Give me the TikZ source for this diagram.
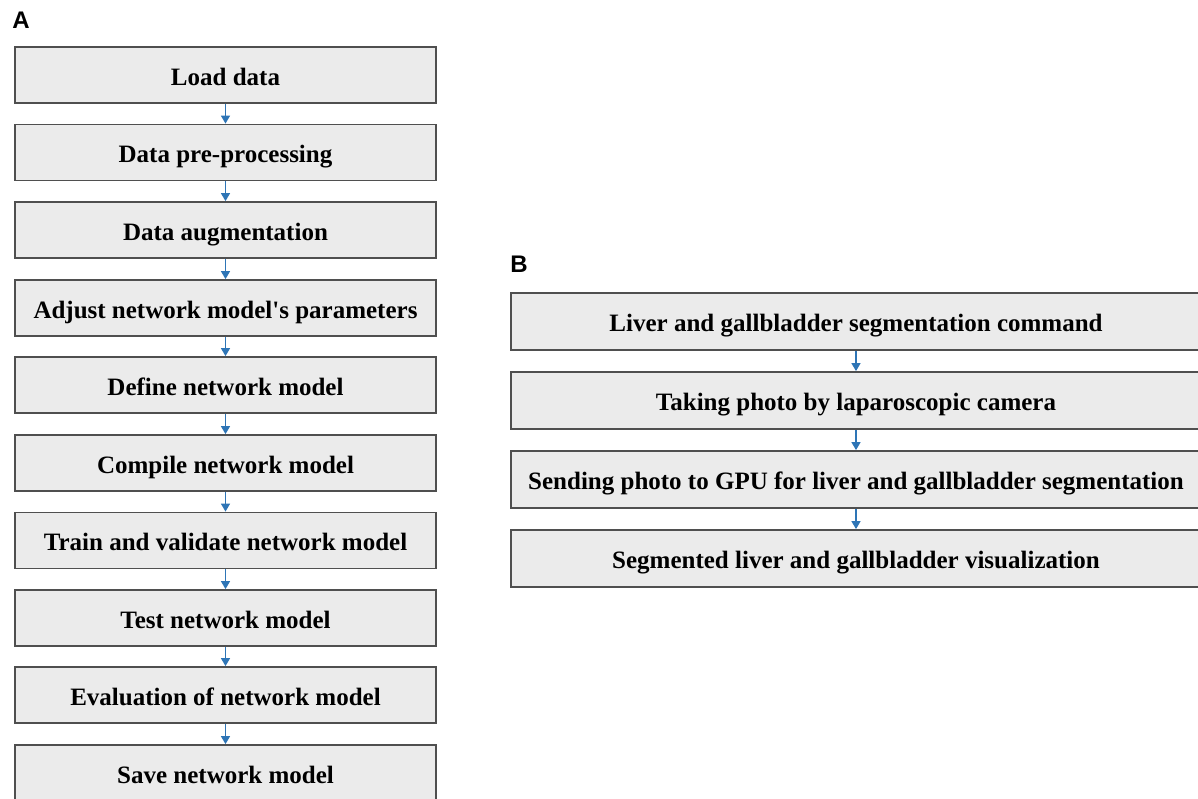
\documentclass[tikz,border=0pt]{standalone}
\usepackage{fontspec}
\setmainfont{Liberation Serif}
\setsansfont{Liberation Sans}
\usetikzlibrary{arrows.meta}
\definecolor{boxfill}{HTML}{EBEBEB}
\definecolor{boxline}{HTML}{4F4F4F}
\definecolor{flowblue}{HTML}{2E75B6}
\begin{document}
\begin{tikzpicture}[x=0.5pt,y=-0.5pt,
  stepA/.style={draw=boxline,fill=boxfill,line width=0.9pt,minimum width=210.5pt,minimum height=28pt,inner sep=0pt,text height=11pt,text depth=1pt,font=\fontsize{12.5}{14}\selectfont\bfseries},
  stepB/.style={stepA,minimum width=345pt,minimum height=28.5pt},
  flow/.style={draw=flowblue,line width=0.7pt,-{Triangle[width=4.5pt,length=4pt]}},
  panel/.style={font=\sffamily\bfseries\fontsize{12}{14}\selectfont,inner sep=0pt,anchor=west}]
\useasboundingbox (0,0) rectangle (1198,798);
% panel A
\node[panel] (labA) at (12,20) {A};
\node[stepA] (a1) at (225.5,75) {Load data};
\node[stepA] (a2) at (225.5,152.5) {Data pre-processing};
\node[stepA] (a3) at (225.5,230) {Data augmentation};
\node[stepA] (a4) at (225.5,308) {Adjust network model\textquotesingle s parameters};
\node[stepA] (a5) at (225.5,385) {Define network model};
\node[stepA] (a6) at (225.5,463) {Compile network model};
\node[stepA] (a7) at (225.5,540.5) {Train and validate network model};
\node[stepA] (a8) at (225.5,618) {Test network model};
\node[stepA] (a9) at (225.5,695) {Evaluation of network model};
\node[stepA] (a10) at (225.5,773) {Save network model};
\draw[flow] (a1) -- (a2);
\draw[flow] (a2) -- (a3);
\draw[flow] (a3) -- (a4);
\draw[flow] (a4) -- (a5);
\draw[flow] (a5) -- (a6);
\draw[flow] (a6) -- (a7);
\draw[flow] (a7) -- (a8);
\draw[flow] (a8) -- (a9);
\draw[flow] (a9) -- (a10);
% panel B
\node[panel] (labB) at (510,264) {B};
\node[stepB] (b1) at (856,321.5) {Liver and gallbladder segmentation command};
\node[stepB] (b2) at (856,400.5) {Taking photo by laparoscopic camera};
\node[stepB] (b3) at (856,479.5) {Sending photo to GPU for liver and gallbladder segmentation};
\node[stepB] (b4) at (856,558.5) {Segmented liver and gallbladder visualization};
\draw[flow] (b1) -- (b2);
\draw[flow] (b2) -- (b3);
\draw[flow] (b3) -- (b4);
\end{tikzpicture}
\end{document}
